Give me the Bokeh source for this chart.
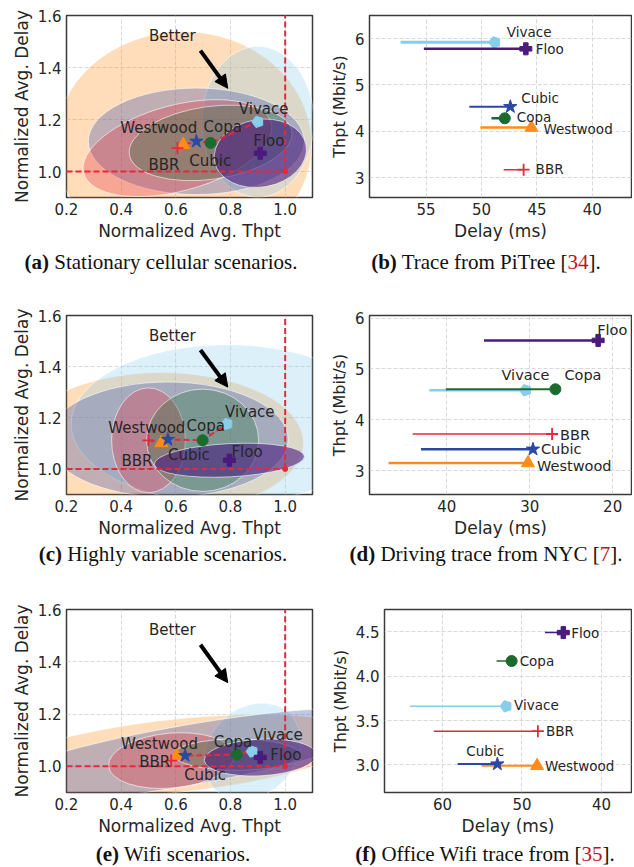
import numpy as np
from bokeh.plotting import figure
from bokeh.layouts import column, row
from bokeh.models import (Range1d, FixedTicker, PrintfTickFormatter, Arrow,
                          NormalHead, Div, ColumnDataSource)
from bokeh.core.properties import value
from bokeh.embed import file_html
from bokeh.resources import INLINE

# ---------------- data ----------------
PROTOCOLS = ["Westwood", "Vivace", "Cubic", "BBR", "Copa", "Floo"]
COLORS = ["#ff8c1a", "#87ceeb", "#2a48a6", "#e6283c", "#1b6b2f", "#4a1a7e"]
MARKERS = ["triangle", "pentagon", "star", "cross", "circle", "plus"]
MARKER_SIZES = [13, 11, 14, 12, 11, 12]
FRONTIER = ["BBR", "Westwood", "Cubic", "Copa", "Vivace"]

# (a) stationary cellular: normalized thpt / delay and ellipse spread
A_THPT = [0.627, 0.900, 0.675, 0.606, 0.727, 0.909]
A_DELAY = [1.103, 1.191, 1.116, 1.090, 1.110, 1.070]
A_ELL_W = [0.94, 0.41, 0.79, 0.71, 0.60, 0.34]
A_ELL_H = [0.87, 0.58, 0.41, 0.33, 0.28, 0.26]
A_ELL_ANGLE = [0, 0, 0, 15, 8, 10]

# (c) highly variable
C_THPT = [0.547, 0.787, 0.571, 0.500, 0.698, 0.796]
C_DELAY = [1.102, 1.176, 1.115, 1.112, 1.112, 1.034]
C_ELL_W = [1.04, 1.14, 0.88, 0.27, 0.41, 0.55]
C_ELL_H = [0.55, 0.62, 0.45, 0.41, 0.40, 0.13]
C_ELL_ANGLE = [0, 0, 0, 0, 0, 3]

# (e) wifi
E_THPT = [0.604, 0.879, 0.634, 0.583, 0.823, 0.909]
E_DELAY = [1.041, 1.057, 1.041, 1.022, 1.045, 1.034]
E_ELL_W = [1.35, 0.39, 1.57, 0.46, 0.46, 0.41]
E_ELL_H = [0.28, 0.33, 0.23, 0.21, 0.12, 0.14]
E_ELL_ANGLE = [6, 45, 10, 5, 0, 3]

# (b) PiTree trace: delay (ms), delay upper bound, throughput (Mbit/s)
B_DELAY = [45.5, 48.8, 47.4, 46.2, 47.9, 46.0]
B_DELAY_HI = [50.1, 57.3, 51.1, 48.0, 49.1, 55.2]
B_THPT = [4.08, 5.92, 4.53, 3.17, 4.28, 5.78]

# (d) NYC driving trace
D_DELAY = [30.2, 30.5, 29.6, 27.3, 26.9, 21.75]
D_DELAY_HI = [47.0, 42.1, 43.1, 44.1, 40.1, 35.5]
D_THPT = [3.15, 4.58, 3.42, 3.72, 4.60, 5.56]

# (f) Office wifi trace
F_DELAY = [48.1, 52.0, 53.1, 48.0, 51.3, 44.8]
F_DELAY_HI = [55.1, 64.1, 58.1, 61.1, 53.2, 47.1]
F_THPT = [2.99, 3.66, 3.01, 3.38, 4.17, 4.49]

NORM_TICKS_X = [0.2, 0.4, 0.6, 0.8, 1.0]
NORM_TICKS_Y = [1.0, 1.2, 1.4, 1.6]
REF_POINT = (1.0, 1.0)

# ---------------- styles ----------------
FONT = "DejaVu Sans"
TXT = "#262626"
ARROW_START = (0.69, 1.465)
ARROW_END = (0.79, 1.32)
BETTER_POS = (0.502, 1.52)

A_OFF = {"Westwood": (-63, -17), "Vivace": (-19, -13), "Cubic": (-7, 20),
         "BBR": (-29, 17), "Copa": (-7, -16), "Floo": (-7, -12)}
C_OFF = {"Westwood": (-53, -15), "Vivace": (-2, -12), "Cubic": (0, 15),
         "BBR": (-27, 21), "Copa": (-16, -14), "Floo": (2, -8)}
E_OFF = {"Westwood": (-56, -12), "Vivace": (1, -16), "Cubic": (-1, 19),
         "BBR": (-32, 1), "Copa": (-23, -13), "Floo": (10, -2)}
B_OFF = {"Westwood": (12, 1), "Vivace": (12, -10), "Cubic": (11, -9),
         "BBR": (12, -1), "Copa": (12, -1), "Floo": (10, 0)}
D_OFF = {"Westwood": (9, 3), "Vivace": (-24, -15), "Cubic": (8, 0),
         "BBR": (8, 1), "Copa": (9, -14), "Floo": (-1, -10)}
F_OFF = {"Westwood": (8, 0), "Vivace": (8, -1), "Cubic": (-31, -13),
         "BBR": (8, 0), "Copa": (8, 0), "Floo": (8, 0)}
B_LW = [2.5, 3, 2, 1.5, 2.5, 2.5]
D_LW = [2.5, 2.5, 2.5, 1.5, 2, 2.5]
F_LW = [2, 1.5, 2, 1.5, 1.5, 1.5]


def style_axes(p, xlabel, ylabel, ylabel_size="17px"):
    p.outline_line_color = "#3a3a3a"
    p.outline_line_width = 1.5
    p.background_fill_color = "white"
    p.border_fill_color = "white"
    for ax in (p.xaxis[0], p.yaxis[0]):
        ax.axis_line_color = None
        ax.major_tick_line_color = None
        ax.minor_tick_line_color = None
        ax.major_tick_out = 0
        ax.major_tick_in = 0
        ax.major_label_text_font = FONT
        ax.major_label_text_font_size = "15px"
        ax.major_label_text_color = TXT
        ax.axis_label_text_font = FONT
        ax.axis_label_text_font_style = "normal"
        ax.axis_label_text_color = TXT
        ax.major_label_standoff = 5
        ax.axis_label_standoff = 3
    p.xaxis[0].axis_label = xlabel
    p.yaxis[0].axis_label = ylabel
    p.xaxis[0].axis_label_text_font_size = "17px"
    p.yaxis[0].axis_label_text_font_size = ylabel_size
    for g in (p.xgrid[0], p.ygrid[0]):
        g.grid_line_color = "#cfcfcf"
        g.grid_line_dash = "4 2"
        g.grid_line_width = 0.8


def draw_marker(p, x, y, i):
    if MARKERS[i] == "pentagon":
        p.ngon(x=[x], y=[y], radius=MARKER_SIZES[i] / 2 + 0.5, radius_units="screen",
               n=5, angle=np.pi / 2, fill_color=COLORS[i], line_color=COLORS[i],
               line_width=1)
    else:
        lw = 1.8 if MARKERS[i] == "cross" else 1
        p.scatter([x], [y], marker=MARKERS[i], size=MARKER_SIZES[i],
                  fill_color=COLORS[i], line_color=COLORS[i], line_width=lw)


def scatter_panel(thpt, delay, ew, eh, ea, offs, width, height, top, bottom):
    p = figure(width=width, height=height, output_backend="svg", toolbar_location=None,
               x_range=Range1d(0.2, 1.1), y_range=Range1d(0.9, 1.6),
               min_border_left=51, min_border_right=6, min_border_top=top,
               min_border_bottom=bottom)
    style_axes(p, "Normalized Avg. Thpt", "Normalized Avg. Delay")
    p.xaxis[0].ticker = FixedTicker(ticks=NORM_TICKS_X)
    p.yaxis[0].ticker = FixedTicker(ticks=NORM_TICKS_Y)
    p.xaxis[0].formatter = PrintfTickFormatter(format="%.1f")
    p.yaxis[0].formatter = PrintfTickFormatter(format="%.1f")

    for i, name in enumerate(PROTOCOLS):
        p.ellipse(x=[thpt[i]], y=[delay[i]], width=[ew[i]], height=[eh[i]],
                  angle=[ea[i]], angle_units="deg", fill_color=COLORS[i],
                  fill_alpha=0.6 if name == "Floo" else 0.3,
                  line_color="white", line_alpha=0.6, line_width=1)

    # reference lines
    p.line([0.2, REF_POINT[0]], [REF_POINT[1], REF_POINT[1]], line_color="#e6283c",
           line_width=2, line_dash="6 3")
    p.line([REF_POINT[0], REF_POINT[0]], [REF_POINT[1], 1.6], line_color="#e6283c",
           line_width=2, line_dash="6 3")
    p.scatter([REF_POINT[0]], [REF_POINT[1]], size=5, color="#e6283c")

    # frontier
    idx = sorted([PROTOCOLS.index(n) for n in FRONTIER], key=lambda k: thpt[k])
    p.line([thpt[k] for k in idx], [delay[k] for k in idx], line_color="#e6283c",
           line_width=2, line_dash="6 3")

    for i, name in enumerate(PROTOCOLS):
        draw_marker(p, thpt[i], delay[i], i)

    src = ColumnDataSource(dict(x=thpt, y=delay, t=PROTOCOLS,
                                dx=[offs[n][0] for n in PROTOCOLS],
                                dy=[offs[n][1] for n in PROTOCOLS]))
    p.text(x="x", y="y", text="t", x_offset="dx", y_offset="dy", source=src,
           text_font=value(FONT), text_font_size="15px", text_color=TXT,
           text_baseline="middle", text_align="left")

    p.add_layout(Arrow(x_start=ARROW_START[0], y_start=ARROW_START[1],
                       x_end=ARROW_END[0], y_end=ARROW_END[1], line_width=4,
                       line_color="black",
                       end=NormalHead(size=13, fill_color="black", line_color="black")))
    p.text(x=[BETTER_POS[0]], y=[BETTER_POS[1]], text=["Better"],
           text_font=value(FONT), text_font_size="15px", text_color=TXT,
           text_baseline="middle", text_align="left")
    return p


def range_panel(delay, hi, thpt, offs, lws, xr, yr, xticks, yticks, yfmt,
                width, height, left, top, bottom, fs):
    p = figure(width=width, height=height, output_backend="svg", toolbar_location=None,
               x_range=Range1d(*xr), y_range=Range1d(*yr),
               min_border_left=left, min_border_right=1, min_border_top=top,
               min_border_bottom=bottom)
    style_axes(p, "Delay (ms)", "Thpt (Mbit/s)", ylabel_size="16px")
    p.xaxis[0].ticker = FixedTicker(ticks=xticks)
    p.yaxis[0].ticker = FixedTicker(ticks=yticks)
    p.yaxis[0].formatter = PrintfTickFormatter(format=yfmt)
    for i, name in enumerate(PROTOCOLS):
        p.segment(x0=[hi[i]], y0=[thpt[i]], x1=[delay[i]], y1=[thpt[i]],
                  line_color=COLORS[i], line_width=lws[i])
        draw_marker(p, delay[i], thpt[i], i)
    src = ColumnDataSource(dict(x=delay, y=thpt, t=PROTOCOLS,
                                dx=[offs[n][0] for n in PROTOCOLS],
                                dy=[offs[n][1] for n in PROTOCOLS]))
    p.text(x="x", y="y", text="t", x_offset="dx", y_offset="dy", source=src,
           text_font=value(FONT), text_font_size=fs, text_color=TXT,
           text_baseline="middle", text_align="left")
    return p


def caption(letter, text, width, height, lh, shift, ref=None):
    body = f"<b>({letter})</b> {text}"
    if ref is not None:
        body += f' [<span style="color:#c0141c">{ref}</span>].'
    html = (f'<div style="width:{width}px;height:{height}px;line-height:{lh}px;'
            f'text-align:center;font-family:\'Liberation Serif\',serif;font-size:21px;'
            f'color:#111;white-space:nowrap;position:relative;left:{shift}px;">{body}</div>')
    return Div(text=html, width=width, height=height, margin=(0, 0, 0, 0))


RW = 314  # right column width
fa = scatter_panel(A_THPT, A_DELAY, A_ELL_W, A_ELL_H, A_ELL_ANGLE, A_OFF, 310, 237, 7, 48)
fb = range_panel(B_DELAY, B_DELAY_HI, B_THPT, B_OFF, B_LW, (60.1, 36.47), (2.57, 6.5),
                 [55, 50, 45, 40], [3, 4, 5, 6], "%d", RW, 237, 51, 7, 48, "13.5px")
fc = scatter_panel(C_THPT, C_DELAY, C_ELL_W, C_ELL_H, C_ELL_ANGLE, C_OFF, 310, 260, 32, 46)
fd = range_panel(D_DELAY, D_DELAY_HI, D_THPT, D_OFF, D_LW, (49.3, 17.73), (2.53, 6.05),
                 [40, 30, 20], [3, 4, 5, 6], "%d", RW, 260, 51, 35, 46, "14.5px")
fe = scatter_panel(E_THPT, E_DELAY, E_ELL_W, E_ELL_H, E_ELL_ANGLE, E_OFF, 310, 270, 40, 46)
ff = range_panel(F_DELAY, F_DELAY_HI, F_THPT, F_OFF, F_LW, (67.3, 36.22), (2.69, 4.75),
                 [60, 50, 40], [3.0, 3.5, 4.0, 4.5], "%.1f", RW, 270, 66, 41, 46, "13.5px")

ca = caption("a", "Stationary cellular scenarios.", 310, 35, 35, -2)
cb = caption("b", "Trace from PiTree", RW, 35, 35, 11, ref="34")
cc = caption("c", "Highly variable scenarios.", 310, 28, 28, 0)
cd = caption("d", "Driving trace from NYC", RW, 28, 28, 11, ref="7")
ce = caption("e", "Wifi scenarios.", 310, 21, 32, 10)
cf = caption("f", "Office Wifi trace from", RW, 21, 32, 10, ref="35")

layout = column(row(fa, fb), row(ca, cb), row(fc, fd), row(cc, cd), row(fe, ff), row(ce, cf),
                margin=(8, 0, 0, 8))

with open("out.html", "w") as fh:
    fh.write(file_html(layout, INLINE))
